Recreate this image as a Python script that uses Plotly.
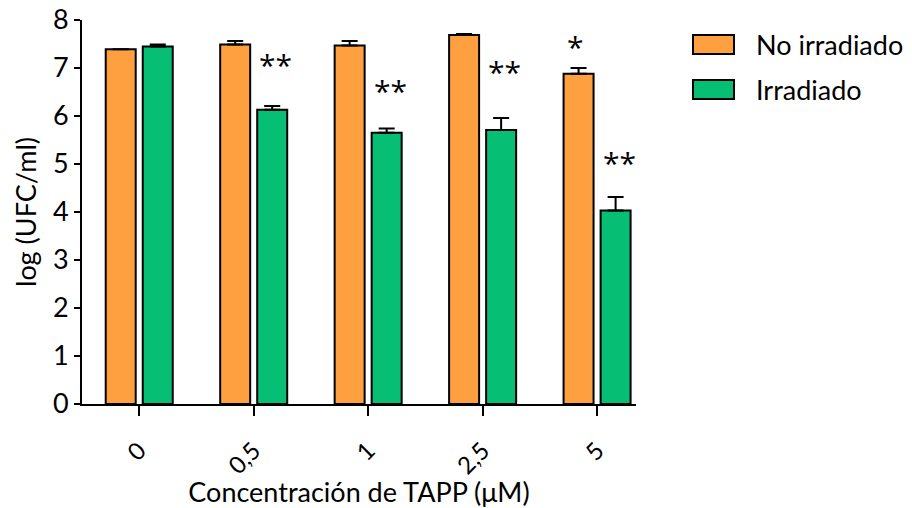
import plotly.graph_objects as go

categories = ["0", "0,5", "1", "2,5", "5"]
no_irr = [7.39, 7.49, 7.47, 7.69, 6.88]
no_irr_err = [0.0, 0.07, 0.09, 0.02, 0.12]
irr = [7.45, 6.13, 5.65, 5.71, 4.03]
irr_err = [0.04, 0.08, 0.09, 0.25, 0.28]
# significance marks: (category, series, text, y)
marks = [
    ("0,5", "irr", "**", 7.07),
    ("1", "irr", "**", 6.53),
    ("2,5", "irr", "**", 6.92),
    ("5", "no", "*", 7.45),
    ("5", "irr", "**", 5.03),
]

ORANGE = "#FFA040"
GREEN = "#06BE74"
FONT = "Lato"

fig = go.Figure()
fig.add_trace(go.Bar(
    x=categories, y=no_irr, name="No irradiado",
    marker=dict(color=ORANGE, line=dict(color="black", width=2)),
    error_y=dict(type="data", array=no_irr_err, symmetric=False, arrayminus=[0]*5,
                 color="black", thickness=2, width=8),
))
fig.add_trace(go.Bar(
    x=categories, y=irr, name="Irradiado",
    marker=dict(color=GREEN, line=dict(color="black", width=2)),
    error_y=dict(type="data", array=irr_err, symmetric=False, arrayminus=[0]*5,
                 color="black", thickness=2, width=8),
))

for cat, ser, txt, yv in marks:
    fig.add_annotation(x=categories.index(cat), y=yv, text=txt, showarrow=False,
                       xshift=22 if ser == "irr" else -22,
                       font=dict(family="Open Sans", size=30, color="black"))

# custom legend
leg = [("No irradiado", ORANGE), ("Irradiado", GREEN)]
for i, (name, col) in enumerate(leg):
    y0 = 35 + i * 45
    fig.add_shape(type="rect", xref="paper", yref="paper",
                  x0=(693 - 82) / 554, x1=(734 - 82) / 554,
                  y0=(404 - (y0 + 19)) / 384, y1=(404 - y0) / 384,
                  fillcolor=col, line=dict(color="black", width=2))
    fig.add_annotation(xref="paper", yref="paper", x=(754 - 82) / 554,
                       y=(404 - (y0 + 9.5)) / 384, text=name, showarrow=False,
                       xanchor="left", yanchor="middle",
                       font=dict(family=FONT, size=27, color="black"))

fig.update_layout(
    width=912, height=508,
    margin=dict(l=82, r=276, t=20, b=104),
    plot_bgcolor="white", paper_bgcolor="white",
    barmode="group", bargap=0.353, bargroupgap=0.19,
    showlegend=False,
    font=dict(family=FONT, size=27, color="black"),
)
fig.update_xaxes(
    range=[-0.5, 4.34], showline=True, linecolor="black", linewidth=2,
    ticks="outside", ticklen=10, tickwidth=2, tickcolor="black",
    tickangle=-45, tickfont=dict(size=24), ticklabelstandoff=11,
    title=dict(text="Concentración de TAPP (μM)", font=dict(size=27), standoff=6),
    showgrid=False, zeroline=False, automargin=False,
)
fig.update_yaxes(
    range=[0, 8], dtick=1, showline=True, linecolor="black", linewidth=2,
    ticks="outside", ticklen=6, tickwidth=2, tickcolor="black",
    tickfont=dict(size=27),
    title=dict(text="log (UFC/ml)", font=dict(size=27), standoff=8),
    showgrid=False, zeroline=False, automargin=False,
)

fig.write_html("out.html")
